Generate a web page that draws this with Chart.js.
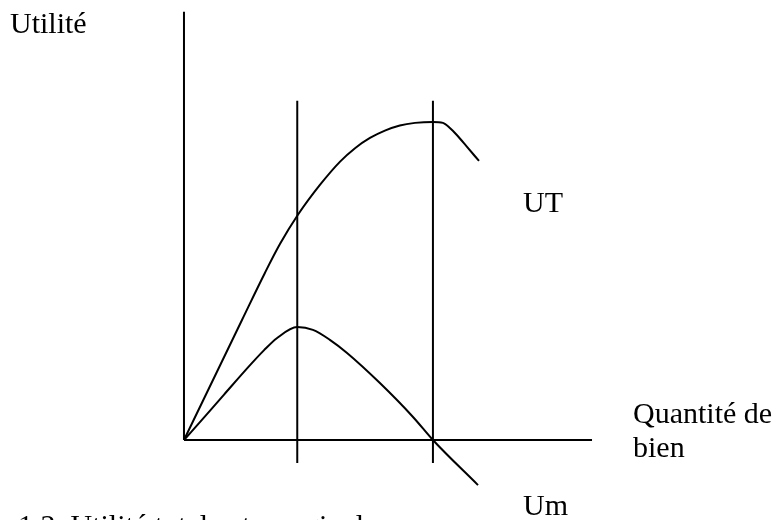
<!DOCTYPE html>
<html>
<head>
<meta charset="utf-8">
<script src="https://cdn.jsdelivr.net/npm/chart.js@4/dist/chart.umd.min.js"></script>
<style>
  body { margin: 0; background: #fff; }
  canvas { display: block; }
</style>
</head>
<body>
<canvas id="utiliteChart" width="776" height="520"></canvas>
<script>
// Quantité de bien (x) et utilité (y)
var utX  = [0, 2.33, 3.25, 3.86, 4.57, 5.46, 6.27, 6.87, 7.47, 8.07, 8.67, 9.28, 10, 10.4, 10.68, 10.96, 11.37, 11.85];
var utY  = [0, 3.75, 5.22, 6.13, 7.03, 7.97, 8.70, 9.12, 9.44, 9.67, 9.83, 9.91, 9.94, 9.91, 9.75, 9.53, 9.16, 8.72];
var umX  = [0, 0.8, 1.61, 2.69, 3.21, 3.73, 4.55, 5.18, 5.86, 6.55, 7.87, 9.2, 10, 11.81];
var umY  = [0, 0.70, 1.42, 2.37, 2.80, 3.18, 3.53, 3.44, 3.13, 2.72, 1.78, 0.72, 0, -1.41];

// axes and the two vertical guides
var axisYTop = 13.38;
var axisXEnd = 16.39;
var guideX = [4.55, 10];
var guideTop = 10.6;
var guideBottom = -0.72;

function toPoints(xs, ys) {
  var pts = [];
  for (var i = 0; i < xs.length; i++) {
    pts.push({ x: xs[i], y: ys[i] });
  }
  return pts;
}

function lineSet(data, smooth) {
  return {
    data: data,
    showLine: true,
    borderColor: '#000',
    borderWidth: 2,
    pointRadius: 0,
    tension: smooth ? 0.4 : 0,
    cubicInterpolationMode: smooth ? 'monotone' : 'default',
    fill: false
  };
}

var datasets = [
  lineSet([{ x: 0, y: 0 }, { x: 0, y: axisYTop }], false),
  lineSet([{ x: 0, y: 0 }, { x: axisXEnd, y: 0 }], false),
  lineSet([{ x: guideX[0], y: guideBottom }, { x: guideX[0], y: guideTop }], false),
  lineSet([{ x: guideX[1], y: guideBottom }, { x: guideX[1], y: guideTop }], false),
  lineSet(toPoints(utX, utY), true),
  lineSet(toPoints(umX, umY), true)
];

// texts of the figure
var labelFont = '30px "Liberation Serif", "Times New Roman", serif';
var textLabels = [
  { text: 'Utilité', x: 10, y: 33 },
  { text: 'UT', x: 523, y: 212 },
  { text: 'Quantité de', x: 633, y: 423 },
  { text: 'bien', x: 633, y: 457 },
  { text: 'Um', x: 523, y: 515 },
  { text: '1.2. Utilité totale et marginale', x: 18, y: 535 }
];

var textPlugin = {
  id: 'textPlugin',
  afterDraw: function(chart) {
    var ctx = chart.ctx;
    ctx.save();
    ctx.fillStyle = '#000';
    ctx.font = labelFont;
    ctx.textBaseline = 'alphabetic';
    textLabels.forEach(function(l) {
      ctx.fillText(l.text, l.x, l.y);
    });
    ctx.restore();
  }
};

var ctx = document.getElementById('utiliteChart').getContext('2d');
var chart = new Chart(ctx, {
  type: 'scatter',
  data: { datasets: datasets },
  options: {
    responsive: false,
    animation: false,
    devicePixelRatio: 1,
    layout: { padding: 0 },
    plugins: {
      legend: { display: false },
      tooltip: { enabled: false }
    },
    scales: {
      x: { type: 'linear', display: false, min: -7.39, max: 23.78 },
      y: { type: 'linear', display: false, min: -2.5, max: 13.75 }
    }
  },
  plugins: [textPlugin]
});
</script>
</body>
</html>
